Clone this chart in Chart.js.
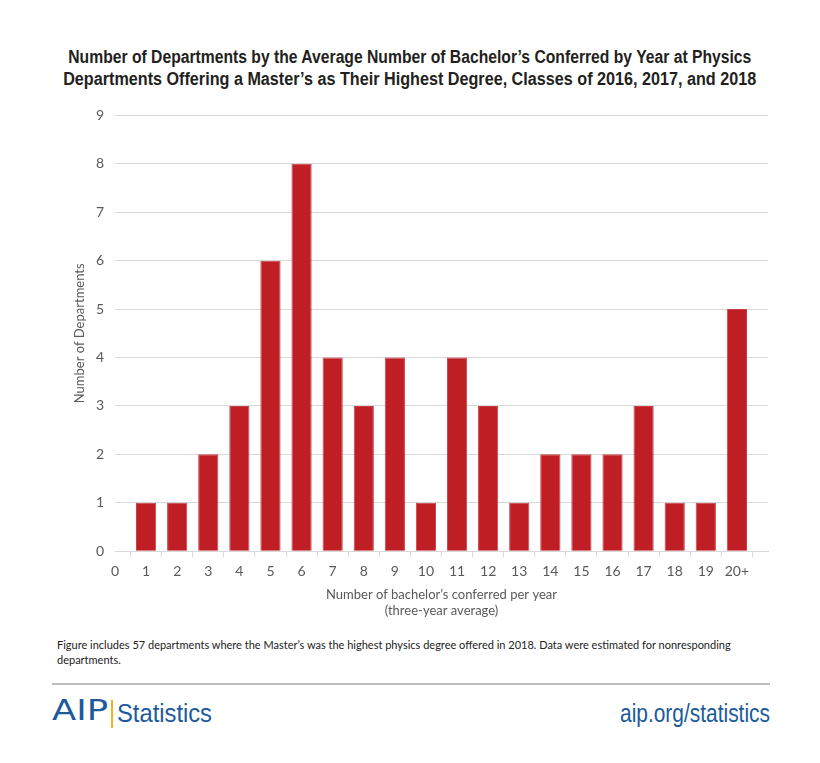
<!DOCTYPE html>
<html>
<head>
<meta charset="utf-8">
<script src="https://cdn.jsdelivr.net/npm/chart.js@4"></script>
<style>
  body { margin: 0; background: #fff; width: 820px; height: 763px; position: relative; overflow: hidden; }
  .line { position: absolute; left: 0; width: 820px; text-align: center; white-space: nowrap;
    font-family: "Liberation Sans", Arial, sans-serif; font-weight: bold; font-size: 18px; line-height: 22px; color: #231f20; }
  .line span { display: inline-block; transform-origin: center; }
  #wrap { position: absolute; left: 0; top: 96px; width: 820px; height: 531px; }
  #note { position: absolute; left: 57px; top: 637px; width: 720px; font-family: Lato, sans-serif;
    font-size: 11px; line-height: 15px; color: #222; }
  #rule { position: absolute; left: 52px; top: 683px; width: 718px; height: 2px; background: #bdbdbd; }
  .brand { position: absolute; top: 698px; white-space: nowrap; font-family: "Liberation Sans", Arial, sans-serif;
    color: #1c5a9c; font-size: 26px; line-height: 30px; transform-origin: left; }
  #bar { position: absolute; left: 111px; top: 700px; width: 2px; height: 28px; background: #f0b323; }
</style>
</head>
<body>
<div class="line" style="top:46px"><span data-w="683">Number of Departments by the Average Number of Bachelor’s Conferred by Year at Physics</span></div>
<div class="line" style="top:68px"><span data-w="693">Departments Offering a Master’s as Their Highest Degree, Classes of 2016, 2017, and 2018</span></div>
<div id="wrap"><canvas id="myChart"></canvas></div>
<div id="note">Figure includes 57 departments where the Master’s was the highest physics degree offered in 2018. Data were estimated for nonresponding departments.</div>
<div id="rule"></div>
<div class="brand" style="left:52px; font-family:'DejaVu Sans',sans-serif; font-size:28px; top:696px" data-w="56">AIP</div>
<div id="bar"></div>
<div class="brand" style="left:117px" data-w="95">Statistics</div>
<div class="brand" style="left:620px" data-w="150">aip.org/statistics</div>
<script>
// bachelor's per year (three-year average); "0" and the trailing blank slot carry no bar
let bins = ['0','1','2','3','4','5','6','7','8','9','10','11','12','13','14','15','16','17','18','19','20+',''];
let departments = [null, 1, 1, 2, 3, 6, 8, 4, 3, 4, 1, 4, 3, 1, 2, 2, 2, 3, 1, 1, 5, null];
let yTicks = [0, 1, 2, 3, 4, 5, 6, 7, 8, 9];

// squeeze text into the condensed widths of the original
document.querySelectorAll('[data-w]').forEach(function (el) {
    if (el.classList.contains('brand')) el.style.display = 'inline-block';
    let w = el.getBoundingClientRect().width;
    el.style.transform = 'scaleX(' + (el.dataset.w / w) + ')';
});

let grey = '#d9d9d9';
let tickFont = { family: 'Lato, sans-serif', size: 14 };

let myChart = document.getElementById('myChart').getContext('2d');

let deptChart = new Chart(myChart, {
    type: 'bar',
    data: {
        labels: bins,
        datasets: [{
            label: 'Number of Departments',
            data: departments,
            backgroundColor: '#be1e24',
            borderColor: '#c8404a',
            borderWidth: 1,
            barPercentage: 0.65,
            categoryPercentage: 1
        }]
    },
    options: {
        responsive: true,
        maintainAspectRatio: false,
        animation: false,
        layout: {
            padding: { left: 72, right: 52, top: 5, bottom: 0 }
        },
        plugins: {
            legend: { display: false },
            tooltip: { enabled: false }
        },
        scales: {
            x: {
                offset: false,
                grid: { drawOnChartArea: false, drawTicks: true, tickLength: 6, color: grey },
                border: { color: grey },
                ticks: { color: '#595959', font: tickFont, maxRotation: 0, autoSkip: false, padding: 6 },
                title: {
                    display: true,
                    text: ['Number of bachelor’s conferred per year', '(three-year average)'],
                    color: '#595959',
                    font: { family: 'Lato, sans-serif', size: 13, lineHeight: '16px' },
                    padding: { top: 1, bottom: 8 }
                }
            },
            y: {
                min: yTicks[0],
                max: yTicks[yTicks.length - 1],
                afterFit: function (scale) { scale.width = 43; },
                grid: { color: grey, drawTicks: false },
                border: { display: false },
                ticks: { stepSize: 1, color: '#595959', font: tickFont, padding: 11 },
                title: {
                    display: true,
                    text: 'Number of Departments',
                    color: '#595959',
                    font: { family: 'Lato, sans-serif', size: 13 },
                    padding: { top: 0, bottom: 0 }
                }
            }
        }
    }
});
</script>
</body>
</html>
